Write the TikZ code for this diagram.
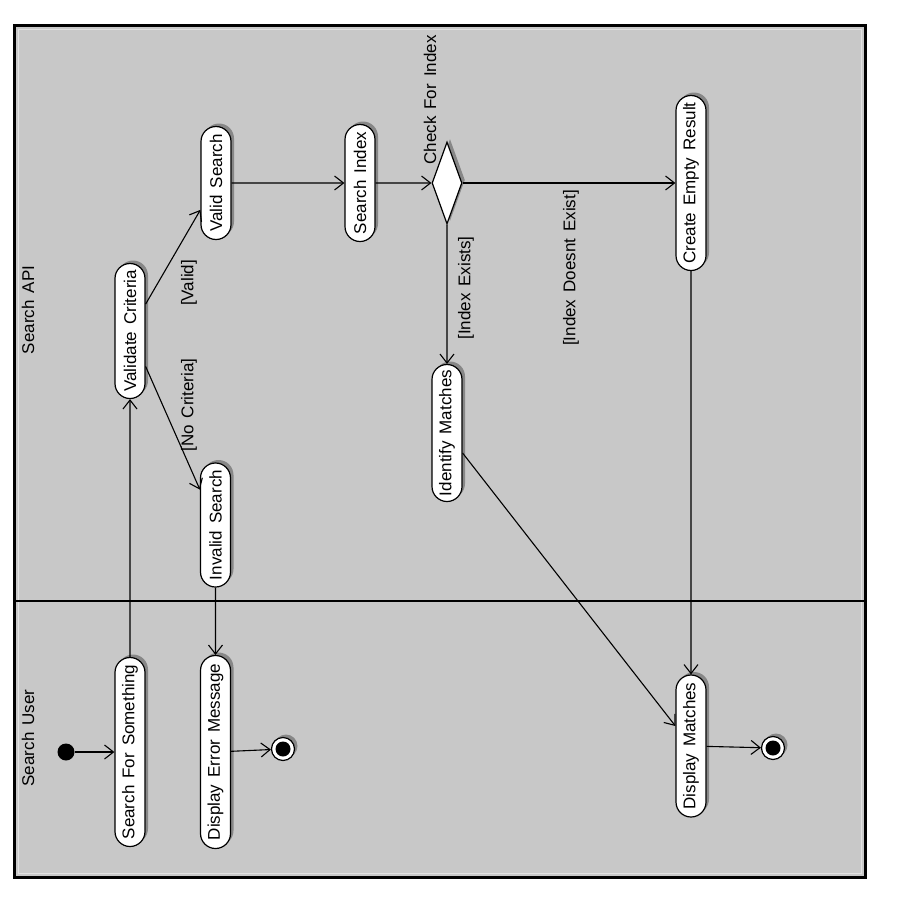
\documentclass[tikz,border=0pt]{standalone}
\usepackage{fontspec}
\setmainfont{Liberation Sans}
\usetikzlibrary{arrows.meta,shapes.misc,shapes.geometric,shadows}
\definecolor{lanegray}{RGB}{200,200,200}
\definecolor{shadowgray}{RGB}{135,135,135}
\definecolor{rimgray}{RGB}{225,225,225}
\newcommand{\lanefont}{\fontsize{17}{19}\selectfont\spaceskip=7pt\relax}
\begin{document}
\begin{tikzpicture}[x=1pt,y=-1pt,
  every node/.style={font=\lanefont},
  shade box/.style={drop shadow={shadow xshift=3pt, shadow yshift=3pt, fill=shadowgray, opacity=1}},
  action/.style={rounded rectangle, rotate=90, draw=black, line width=1.2pt,
    fill=white, minimum height=30, inner sep=0pt, shade box},
  guard/.style={rotate=90, inner sep=0pt},
  flow/.style={draw=black, line width=1.1pt, -{Straight Barb[length=9pt,width=14pt]}},
  startnode/.style={circle, fill=black, minimum size=17, inner sep=0pt},
  endnode/.style={circle, draw=black, fill=white, line width=1.2pt, minimum size=23, inner sep=0pt, shade box},
  decision/.style={diamond, draw=black, fill=white, line width=1.2pt, aspect=0.375,
    minimum width=30, minimum height=82, inner sep=0pt, shade box}]
\useasboundingbox (0,0) rectangle (900,900);

% swimlane frame
\fill[lanegray] (14,25) rectangle (865,877);
\draw[rimgray, line width=1pt] (18,29) rectangle (861,873);
\draw[line width=3pt] (14,25) rectangle (865,877);
\draw[line width=2pt] (14,601) -- (865,601);

% lane titles
\node[guard] (laneapi) at (28,310) {Search API};
\node[guard] (laneuser) at (28,738) {Search User};

% activities
\node[action, minimum width=189] (sfs) at (130,752) {Search For Something};
\node[action, minimum width=193] (dem) at (215.5,752) {Display Error Message};
\node[action, minimum width=135] (vc)  at (130,331) {Validate Criteria};
\node[action, minimum width=113] (vs)  at (216,183) {Valid Search};
\node[action, minimum width=124] (is)  at (215.5,525) {Invalid Search};
\node[action, minimum width=117] (si)  at (360,183) {Search Index};
\node[action, minimum width=175] (cer) at (691,183) {Create Empty Result};
\node[action, minimum width=137] (im)  at (447,433) {Identify Matches};
\node[action, minimum width=142] (dm)  at (691,746) {Display Matches};

% decision
\node[decision] (chk) at (447,183) {};
\node[guard] (chklbl) at (430,100) {Check For Index};

% initial and final states
\node[startnode] (init) at (66,752) {};
\node[endnode] (fin1) at (283,749) {};
\fill (fin1.center) circle (7.5);
\node[endnode] (fin2) at (773,748) {};
\fill (fin2.center) circle (7.5);

% transitions
\draw[flow] (init) -- (sfs);
\draw[flow] (sfs) -- (vc);
\draw[flow] (vc) -- (vs);
\draw[flow] (vc) -- (is);
\draw[flow] (is) -- (dem);
\draw[flow] (dem) -- (fin1);
\draw[flow] (vs) -- (si);
\draw[flow] (si) -- (chk);
\draw[flow] (chk) -- (cer);
\draw[flow] (chk) -- (im);
\draw[flow] (cer) -- (dm);
\draw[flow] (im) -- (dm);
\draw[flow] (dm) -- (fin2);

% guards
\node[guard] (gvalid) at (189,283) {[Valid]};
\node[guard] (gnocrit) at (189,405) {[No Criteria]};
\node[guard] (gexists) at (466,288) {[Index Exists]};
\node[guard] (gnoidx) at (571,268) {[Index Doesnt Exist]};
\end{tikzpicture}
\end{document}
